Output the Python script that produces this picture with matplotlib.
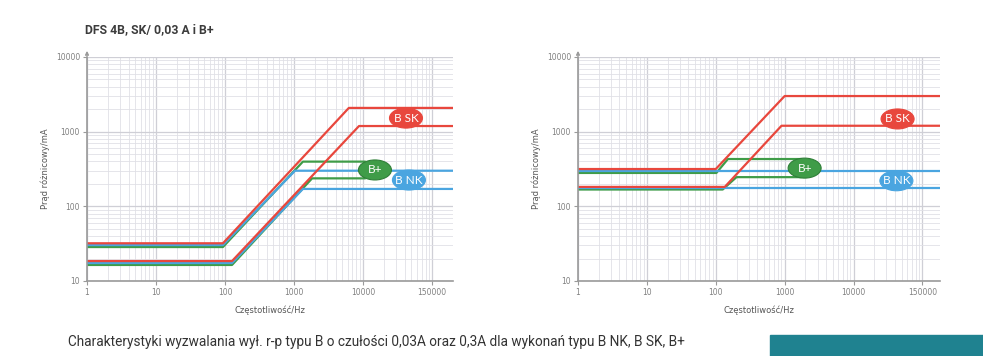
import matplotlib
matplotlib.use("Agg")
import matplotlib.pyplot as plt
from matplotlib.patches import Ellipse, Rectangle
from matplotlib.transforms import ScaledTranslation
from matplotlib.ticker import LogLocator, NullFormatter


# --- data ------------------------------------------------------------------
# frequency [Hz] / current [mA] break points of each trip curve

# left chart, 0,03 A
l_sk_hi_f = [1, 93, 6200, 2e5]
l_sk_hi_i = [32, 32, 2080, 2080]
l_sk_lo_f = [1, 126, 8700, 2e5]
l_sk_lo_i = [18.5, 18.5, 1190, 1190]
l_nk_hi_f = [1, 93, 1030, 2e5]
l_nk_hi_i = [30.3, 30.3, 300, 300]
l_nk_lo_f = [1, 126, 1340, 2e5]
l_nk_lo_i = [17.4, 17.4, 171, 171]
l_bp_hi_f = [1, 93, 1340, 10500]
l_bp_hi_i = [28.5, 28.5, 397, 397]
l_bp_lo_f = [1, 126, 1820, 10500]
l_bp_lo_i = [16.4, 16.4, 237, 237]

# right chart, 0,3 A
r_sk_hi_f = [1, 100, 1000, 2e5]
r_sk_hi_i = [316, 316, 3000, 3000]
r_sk_lo_f = [1, 135, 900, 2e5]
r_sk_lo_i = [182, 182, 1200, 1200]
r_nk_hi_f = [1, 2e5]
r_nk_hi_i = [296, 296]
r_nk_lo_f = [1, 2e5]
r_nk_lo_i = [176, 176]
r_bp_hi_f = [1, 102, 150, 1700]
r_bp_hi_i = [280, 280, 430, 430]
r_bp_lo_f = [1, 126, 200, 1700]
r_bp_lo_i = [168, 168, 246, 246]

x_ticks = [1, 10, 100, 1000, 10000, 100000]
x_labels = ["1", "10", "100", "1000", "10000", "150000"]
y_ticks = [10, 100, 1000, 10000]
y_labels = ["10", "100", "1000", "10000"]

title = "DFS 4B, SK/ 0,03 A i B+"
xlabel = "Częstotliwość/Hz"
ylabel = "Prąd różnicowy/mA"
caption = ("Charakterystyki wyzwalania wył. r-p typu B o czułości 0,03A oraz 0,3A "
           "dla wykonań typu B NK, B SK, B+")

red = "#e8473d"
blue = "#4aa5e0"
green = "#3f9c48"
grey = "#9a9a9a"

W, H = 983, 356
fig = plt.figure(figsize=(W / 100, H / 100), dpi=100)


def box(x0, x1, y_top, y_bot):
    return [x0 / W, 1 - y_bot / H, (x1 - x0) / W, (y_bot - y_top) / H]


def tag(ax, x, y, text, color, edge):
    tr = fig.dpi_scale_trans + ScaledTranslation(x, y, ax.transData)
    ax.add_patch(Ellipse((0, 0), 0.33, 0.2, transform=tr, facecolor=color,
                         edgecolor=edge, lw=0.8, zorder=5, clip_on=False))
    ax.text(x, y, text, color="white", fontsize=8.5, family="Lato",
            ha="center", va="center", zorder=6)


def setup(ax, xmax):
    ax.set_xscale("log")
    ax.set_yscale("log")
    ax.set_xlim(1, xmax)
    ax.set_ylim(10, 10000)
    ax.xaxis.set_minor_locator(LogLocator(subs=range(2, 10), numticks=20))
    ax.yaxis.set_minor_locator(LogLocator(subs=range(2, 10), numticks=20))
    ax.xaxis.set_minor_formatter(NullFormatter())
    ax.yaxis.set_minor_formatter(NullFormatter())
    ax.set_xticks(x_ticks, x_labels)
    ax.set_yticks(y_ticks, y_labels)
    ax.grid(which="major", color="#cfcfd6", lw=0.9)
    ax.grid(which="minor", color="#e0e0e6", lw=0.6)
    for s in ("top", "right"):
        ax.spines[s].set_visible(False)
    for s in ("left", "bottom"):
        ax.spines[s].set_color(grey)
        ax.spines[s].set_linewidth(1.2)
    ax.tick_params(which="major", length=3, width=0.8, color=grey,
                   labelsize=5.5, labelcolor="#808080", pad=2)
    ax.tick_params(which="minor", length=0)
    ax.annotate("", xy=(0, 1.04), xytext=(0, 1.0), xycoords="axes fraction",
                arrowprops=dict(arrowstyle="-|>", color=grey, lw=1.0,
                                mutation_scale=5))
    ax.set_xlabel(xlabel, fontsize=6, color="#555555", labelpad=6)
    ax.set_ylabel(ylabel, fontsize=6, color="#555555", labelpad=4)


lw = 1.6

# left chart
ax1 = fig.add_axes(box(87, 453, 57, 281))
setup(ax1, 2e5)
ax1.plot(l_bp_hi_f, l_bp_hi_i, c=green, lw=lw)
ax1.plot(l_bp_lo_f, l_bp_lo_i, c=green, lw=lw)
ax1.plot(l_nk_hi_f, l_nk_hi_i, c=blue, lw=lw)
ax1.plot(l_nk_lo_f, l_nk_lo_i, c=blue, lw=lw)
ax1.plot(l_sk_hi_f, l_sk_hi_i, c=red, lw=lw)
ax1.plot(l_sk_lo_f, l_sk_lo_i, c=red, lw=lw)
tag(ax1, 41700, 1520, "B SK", red, red)
tag(ax1, 14800, 307, "B+", green, "#2f7f38")
tag(ax1, 46000, 225, "B NK", blue, blue)

# right chart
ax2 = fig.add_axes(box(578, 940, 57, 281))
setup(ax2, 1.8e5)
ax2.plot(r_bp_hi_f, r_bp_hi_i, c=green, lw=lw)
ax2.plot(r_bp_lo_f, r_bp_lo_i, c=green, lw=lw)
ax2.plot(r_nk_hi_f, r_nk_hi_i, c=blue, lw=lw)
ax2.plot(r_nk_lo_f, r_nk_lo_i, c=blue, lw=lw)
ax2.plot(r_sk_hi_f, r_sk_hi_i, c=red, lw=lw)
ax2.plot(r_sk_lo_f, r_sk_lo_i, c=red, lw=lw)
tag(ax2, 43600, 1480, "B SK", red, red)
tag(ax2, 1950, 325, "B+", green, "#2f7f38")
tag(ax2, 41900, 220, "B NK", blue, blue)

fig.text(85 / W, 1 - 30 / H, title, fontsize=8.8, weight="bold",
         family="Roboto", color="#3c3c3c", va="center")
fig.text(68 / W, 1 - 342 / H, caption, fontsize=9.8, family="Roboto",
         color="#333333", va="center")
fig.patches.append(Rectangle((770 / W, 0), 213 / W, 21 / H, color="#1f8290",
                             transform=fig.transFigure, figure=fig))

fig.savefig("out.png", dpi=100)
